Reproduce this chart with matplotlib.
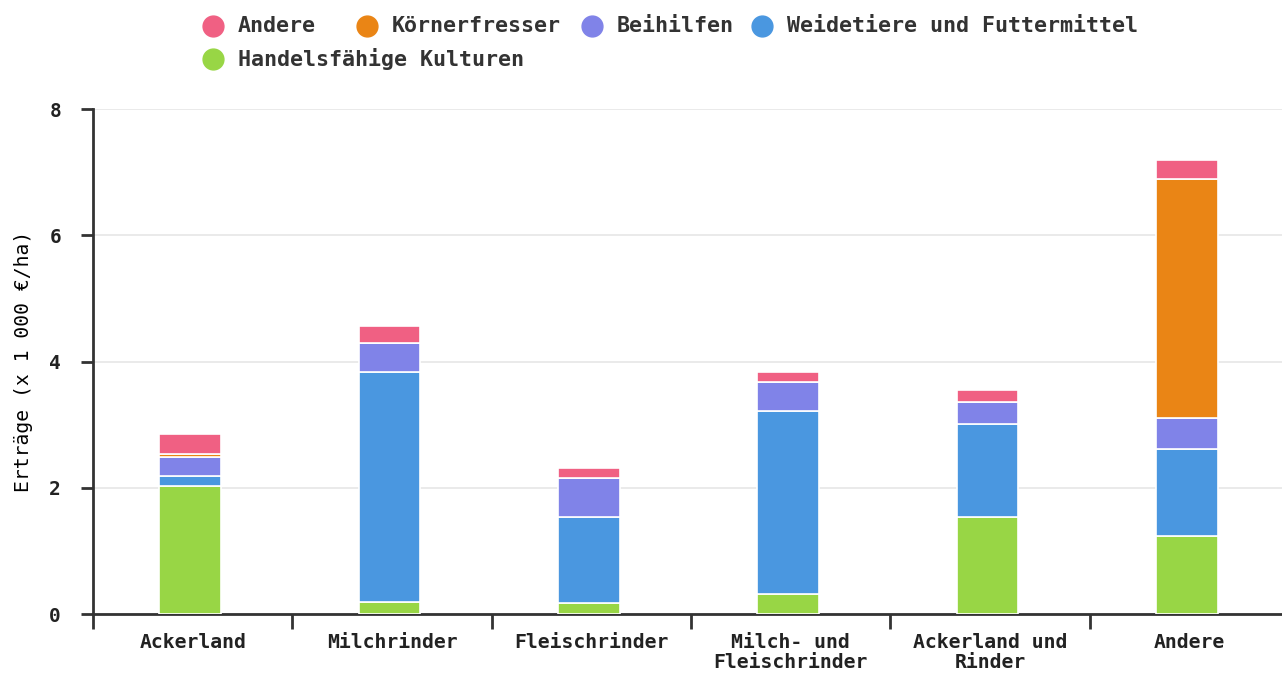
import numpy as np
import matplotlib
matplotlib.use('Agg')
import matplotlib.pyplot as plt

categories = ['Ackerland', 'Milchrinder', 'Fleischrinder',
              'Milch- und\nFleischrinder', 'Ackerland und\nRinder', 'Andere']
handelsfaehig = [2.02, 0.19, 0.17, 0.32, 1.54, 1.24]
weidetiere = [0.17, 3.65, 1.37, 2.90, 1.47, 1.38]
beihilfen = [0.29, 0.46, 0.62, 0.46, 0.35, 0.49]
koernerfresser = [0.06, 0.0, 0.0, 0.0, 0.0, 3.78]
andere = [0.31, 0.26, 0.15, 0.16, 0.19, 0.30]

series = [
    ('Handelsfähige Kulturen', handelsfaehig, '#98d645'),
    ('Weidetiere und Futtermittel', weidetiere, '#4a97e0'),
    ('Beihilfen', beihilfen, '#8083e8'),
    ('Körnerfresser', koernerfresser, '#ea8515'),
    ('Andere', andere, '#f06083'),
]
colors = {name: c for name, _, c in series}

plt.rcParams['font.family'] = 'DejaVu Sans Mono'
plt.rcParams['font.weight'] = 'bold'
plt.rcParams['text.color'] = '#222222'
plt.rcParams['xtick.color'] = '#222222'
plt.rcParams['ytick.color'] = '#222222'

W, H = 1282, 674
fig = plt.figure(figsize=(W / 100, H / 100), dpi=100)
ax = fig.add_axes([93 / W, 60 / H, 1196 / W, 505 / H])

x = np.arange(len(categories))
bottom = np.zeros(len(categories))
for name, vals, col in series:
    ax.bar(x - 0.013, vals, width=0.31, bottom=bottom, color=col,
           edgecolor='white', linewidth=1.2, zorder=3)
    bottom += np.array(vals)

ax.set_xlim(-0.5, len(categories) - 0.5)
ax.set_ylim(0, 8)
ax.set_yticks([0, 2, 4, 6, 8])
ax.grid(axis='y', color='#e6e6e6', linewidth=1.2, zorder=0)
ax.set_xticks(x)
ax.set_xticklabels(categories, fontsize=14.2, linespacing=1.05)
ax.set_xticks(np.arange(-0.5, len(categories)), minor=True)
ax.tick_params(axis='x', which='major', length=0, pad=14)
ax.tick_params(axis='x', which='minor', length=11, width=2, color='#333333')
ax.tick_params(axis='y', length=9, width=2, color='#333333', labelsize=14, pad=14)
for s in ['top', 'right']:
    ax.spines[s].set_visible(False)
for s in ['left', 'bottom']:
    ax.spines[s].set_color('#333333')
    ax.spines[s].set_linewidth(2)

ax.set_ylabel('Erträge (x 1 000 €/ha)', fontsize=14.2)
ax.yaxis.set_label_coords(-0.0505, 0.5)

# legend laid out in rows like the original
rows = [[('Andere', 213), ('Körnerfresser', 367), ('Beihilfen', 592),
         ('Weidetiere und Futtermittel', 762)],
        [('Handelsfähige Kulturen', 213)]]
for r, row in enumerate(rows):
    yy = 1 - (26 + r * 33) / H
    for name, xp in row:
        fig.add_artist(plt.Line2D([xp / W], [yy], marker='o', markersize=15,
                                  color=colors[name], linestyle='None',
                                  transform=fig.transFigure))
        fig.text((xp + 25) / W, yy, name, fontsize=15.6, va='center',
                 ha='left', color='#333333')

fig.savefig('out.png', dpi=100)
